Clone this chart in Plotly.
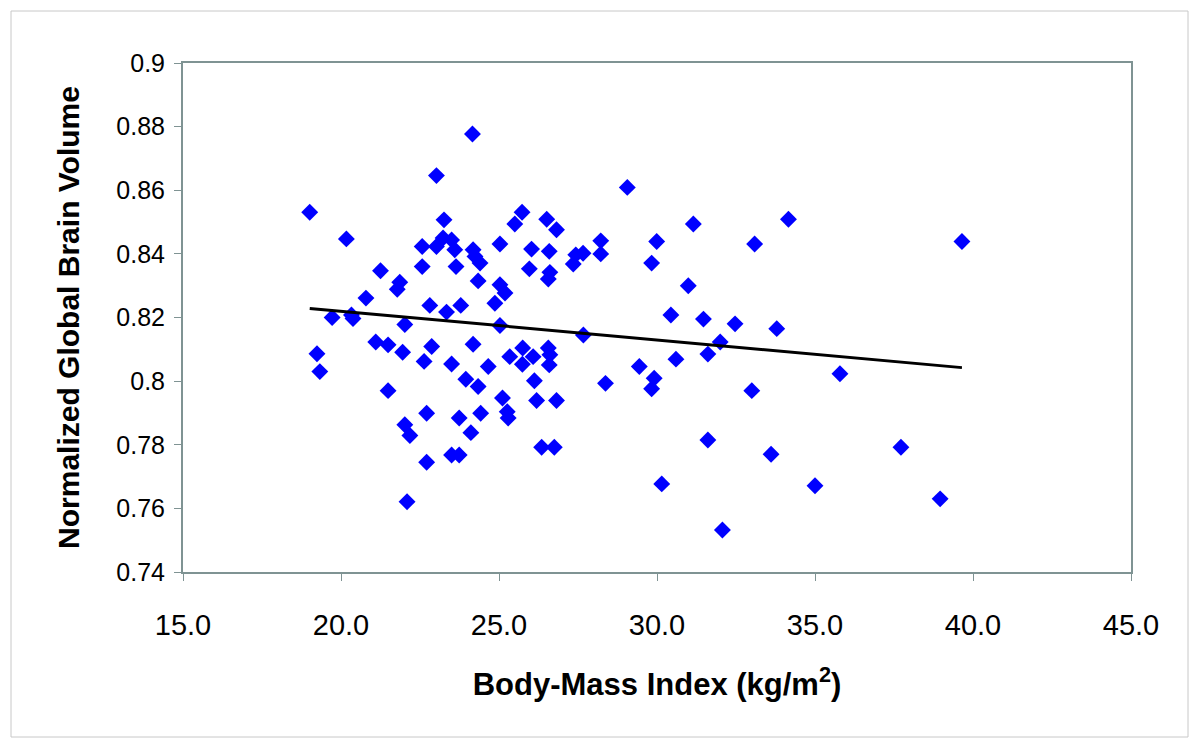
import numpy as np
import plotly.graph_objects as go

# Body-mass index (kg/m^2) and normalized global brain volume
bmi = [
    24.16, 23.02, 19.01, 23.26, 20.17, 22.57, 23.02, 23.23, 23.50, 23.60,
    24.18, 24.24, 24.40, 21.25, 22.57, 23.64, 24.34, 21.86, 21.78, 20.79,
    22.81, 23.34, 23.79, 19.72, 20.33, 20.38, 22.02, 19.24, 19.33, 21.10,
    21.49, 21.95, 22.87, 22.63, 23.50, 24.18, 24.66, 23.95, 24.34, 21.49,
    22.71, 23.74, 24.42, 22.02, 22.18, 24.11, 22.71, 23.50, 23.74, 22.09,
    29.06, 25.73, 25.50, 26.51, 26.82, 31.15, 34.16, 25.03, 26.03, 26.59,
    28.22, 29.99, 33.09, 27.43, 27.66, 27.35, 28.22, 29.83, 25.96, 26.61,
    26.56, 25.03, 25.19, 24.87, 30.99, 30.44, 31.47, 32.47, 33.79, 25.03,
    27.67, 32.00, 25.34, 25.75, 26.08, 26.56, 26.61, 25.74, 26.59, 26.12,
    25.11, 26.19, 26.82, 25.26, 25.29, 26.35, 26.75, 28.37, 29.44, 29.91,
    29.83, 30.60, 31.61, 33.00, 31.61, 33.61, 30.15, 32.07, 35.00, 35.79,
    37.72, 38.96, 39.65,
]
brain_volume = [
    0.8777, 0.8646, 0.8531, 0.8507, 0.8447, 0.8423, 0.8423, 0.8450, 0.8444, 0.8413,
    0.8413, 0.8392, 0.8371, 0.8347, 0.8360, 0.8360, 0.8315, 0.8311, 0.8289, 0.8261,
    0.8238, 0.8217, 0.8238, 0.8200, 0.8208, 0.8197, 0.8178, 0.8086, 0.8030, 0.8123,
    0.8114, 0.8091, 0.8109, 0.8062, 0.8054, 0.8116, 0.8046, 0.8006, 0.7983, 0.7970,
    0.7899, 0.7884, 0.7899, 0.7863, 0.7829, 0.7838, 0.7745, 0.7768, 0.7768, 0.7621,
    0.8609, 0.8531, 0.8494, 0.8509, 0.8476, 0.8494, 0.8509, 0.8431, 0.8415, 0.8408,
    0.8441, 0.8439, 0.8431, 0.8397, 0.8402, 0.8368, 0.8400, 0.8371, 0.8353, 0.8342,
    0.8321, 0.8303, 0.8277, 0.8245, 0.8300, 0.8208, 0.8195, 0.8180, 0.8165, 0.8175,
    0.8145, 0.8123, 0.8077, 0.8104, 0.8077, 0.8104, 0.8083, 0.8053, 0.8051, 0.8001,
    0.7947, 0.7939, 0.7939, 0.7904, 0.7884, 0.7792, 0.7792, 0.7993, 0.8046, 0.8009,
    0.7976, 0.8069, 0.8085, 0.7970, 0.7815, 0.7770, 0.7677, 0.7532, 0.7671, 0.8023,
    0.7792, 0.7630, 0.8439,
]

x_tick_vals = [15, 20, 25, 30, 35, 40, 45]
x_tick_text = ["15.0", "20.0", "25.0", "30.0", "35.0", "40.0", "45.0"]
y_tick_vals = [0.74, 0.76, 0.78, 0.80, 0.82, 0.84, 0.86, 0.88, 0.90]
y_tick_text = ["0.74", "0.76", "0.78", "0.8", "0.82", "0.84", "0.86", "0.88", "0.9"]

# Linear trend line (least squares) across the data range
slope, intercept = np.polyfit(bmi, brain_volume, 1)
trend_x = np.array([min(bmi), max(bmi)])
trend_y = slope * trend_x + intercept

FONT = "Liberation Sans, Arial, sans-serif"
AXIS_COLOR = "#7f9393"

# plot-area geometry (figure pixels)
L, T, W, H = 175, 55, 948, 509

fig = go.Figure()
fig.add_trace(go.Scatter(
    x=bmi, y=brain_volume, mode="markers",
    marker=dict(symbol="diamond", size=13, color="#0000ff", line=dict(width=0)),
    showlegend=False, hoverinfo="x+y",
))
fig.add_trace(go.Scatter(
    x=trend_x, y=trend_y, mode="lines",
    line=dict(color="#000000", width=3),
    showlegend=False, hoverinfo="skip",
))

fig.update_layout(
    width=1200, height=749,
    margin=dict(l=L, r=1200 - L - W, t=T, b=749 - T - H, pad=0),
    paper_bgcolor="#ffffff", plot_bgcolor="#ffffff",
    font=dict(family=FONT, color="#000000"),
    showlegend=False,
)
fig.update_xaxes(
    range=[15, 45], tickvals=x_tick_vals, ticktext=x_tick_text,
    ticks="outside", ticklen=7, tickcolor=AXIS_COLOR, tickwidth=1,
    ticklabelstandoff=19,
    tickfont=dict(size=29, family=FONT),
    showgrid=False, zeroline=False,
    showline=True, linecolor=AXIS_COLOR, linewidth=2, mirror=True,
    title=dict(text="<b>Body-Mass Index (kg/m<sup>2</sup>)</b>",
               font=dict(size=31, family=FONT), standoff=34),
)
fig.update_yaxes(
    range=[0.74, 0.9], tickvals=y_tick_vals, ticktext=y_tick_text,
    ticks="outside", ticklen=7, tickcolor=AXIS_COLOR, tickwidth=1,
    ticklabelstandoff=4,
    tickfont=dict(size=25, family=FONT),
    showgrid=False, zeroline=False,
    showline=True, linecolor=AXIS_COLOR, linewidth=2, mirror=True,
    title=dict(text="<b>Normalized Global Brain Volume</b>",
               font=dict(size=30, family=FONT), standoff=28),
)

# Outer chart frame
fig.add_shape(type="rect", xref="paper", yref="paper",
              x0=(3 - L) / W, x1=(1180 - L) / W,
              y0=(T + H - 729) / H, y1=(T + H - 3) / H,
              line=dict(color="#c8c8c8", width=1), fillcolor="rgba(0,0,0,0)", layer="below")

fig.write_html("out.html")
